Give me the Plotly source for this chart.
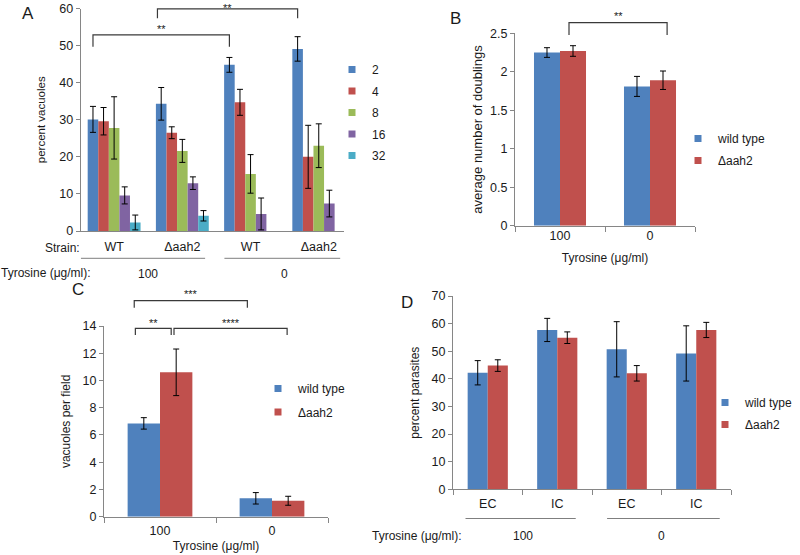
import plotly.graph_objects as go

# ---------------- data ----------------
# Panel A: percent vacuoles by vacuole size
vac_sizes = ["2", "4", "8", "16", "32"]
strain_labels = ["WT", "Δaah2", "WT", "Δaah2"]
tyrosine_groups = ["100", "0"]
a_2 = [30.1, 34.3, 44.8, 49.1]
a_4 = [29.6, 26.5, 34.7, 20.0]
a_8 = [27.8, 21.6, 15.4, 23.0]
a_16 = [9.6, 12.9, 4.6, 7.4]
a_32 = [2.3, 4.1, None, None]   # no 32-parasite vacuoles shown without tyrosine
a_2_err = [3.5, 4.4, 2.0, 3.3]
a_4_err = [3.7, 1.6, 3.5, 8.5]
a_8_err = [8.4, 3.1, 5.2, 5.9]
a_16_err = [2.3, 1.7, 4.3, 3.6]
a_32_err = [2.0, 1.4, None, None]

# Panel B: average number of doublings
b_wt = [2.25, 1.81]
b_ko = [2.27, 1.89]
b_wt_err = [0.063, 0.13]
b_ko_err = [0.069, 0.12]

# Panel C: vacuoles per field
c_wt = [6.85, 1.35]
c_ko = [10.6, 1.17]
c_wt_err = [0.42, 0.42]
c_ko_err = [1.71, 0.33]

# Panel D: percent parasites
d_cats = ["EC", "IC", "EC", "IC"]
d_wt = [42.2, 57.7, 50.7, 49.2]
d_ko = [44.8, 54.9, 42.0, 57.7]
d_wt_err = [4.4, 4.2, 10.0, 10.0]
d_ko_err = [2.1, 2.1, 2.8, 2.75]

strain_names = ["wild type", "Δaah2"]

# ---------------- style ----------------
W, H = 800, 555
FONT = "Liberation Sans, Arial, sans-serif"
TXT = "#1a1a1a"
AXC = "#868686"
BRK = "#3a3a3a"
BLUE, RED, GREEN, PURPLE, CYAN = "#4F81BD", "#C0504D", "#9BBB59", "#8064A2", "#4BACC6"
size_colors = [BLUE, RED, GREEN, PURPLE, CYAN]


def px_x(p):
    return p / W


def px_y(p):
    return 1 - p / H


# subplot domains (pixels) and ranges
dom = {
    "A": ([px_x(80.7), px_x(344)], [px_y(231), px_y(8.5)], [-0.49, 3.37], [0, 60]),
    "B": ([px_x(515), px_x(695)], [px_y(225.7), px_y(33.3)], [-0.5, 1.5], [0, 2.5]),
    "C": ([px_x(104), px_x(328)], [px_y(516.7), px_y(326)], [-0.5, 1.5], [0, 14]),
    "D": ([px_x(453), px_x(731)], [px_y(489.3), px_y(296)], [-0.5, 3.5], [0, 70]),
}
axes_of = {"A": ("x", "y"), "B": ("x2", "y2"), "C": ("x3", "y3"), "D": ("x4", "y4")}


def ypaper(panel, v):
    _, yd, _, yr = dom[panel]
    return yd[0] + (v - yr[0]) / (yr[1] - yr[0]) * (yd[1] - yd[0])


def err(arr):
    return dict(type="data", array=arr, color="black", thickness=1, width=3, visible=True)


fig = go.Figure()

# ---- Panel A bars
a_vals = [a_2, a_4, a_8, a_16, a_32]
a_errs = [a_2_err, a_4_err, a_8_err, a_16_err, a_32_err]
wA = 0.155
xA = list(range(len(strain_labels)))
for i, (nm, v, e, c) in enumerate(zip(vac_sizes, a_vals, a_errs, size_colors)):
    fig.add_trace(go.Bar(x=xA, y=v, error_y=err(e), width=wA, offset=-2.5 * wA + i * wA,
                         marker=dict(color=c, line=dict(width=0)), name=nm, showlegend=False,
                         xaxis="x", yaxis="y"))
    fig.add_trace(go.Scatter(x=[None], y=[None], mode="markers", name=nm,
                             marker=dict(symbol="square", size=7, color=c),
                             legend="legend", legendgroup="a" + nm, xaxis="x", yaxis="y"))

# ---- Panels B, C, D (two strains)
wP = 0.289
panels = [
    ("B", [0, 1], [b_wt, b_ko], [b_wt_err, b_ko_err], "legend2"),
    ("C", [0, 1], [c_wt, c_ko], [c_wt_err, c_ko_err], "legend3"),
    ("D", [0, 1, 2, 3], [d_wt, d_ko], [d_wt_err, d_ko_err], "legend4"),
]
for pn, xs, vals, errs, lg in panels:
    xa, ya = axes_of[pn]
    for j, (nm, v, e, c) in enumerate(zip(strain_names, vals, errs, [BLUE, RED])):
        fig.add_trace(go.Bar(x=xs, y=v, error_y=err(e), width=wP, offset=-wP + j * wP,
                             marker=dict(color=c, line=dict(width=0)), name=nm, showlegend=False,
                             xaxis=xa, yaxis=ya))
        fig.add_trace(go.Scatter(x=[None], y=[None], mode="markers", name=nm,
                                 marker=dict(symbol="square", size=7, color=c),
                                 legend=lg, legendgroup=pn + nm, xaxis=xa, yaxis=ya))

# ---- axes
tickfont = dict(family=FONT, size=12.5, color=TXT)
layout_axes = {}
for k, pn in enumerate(["A", "B", "C", "D"]):
    xd, yd, xr, yr = dom[pn]
    sfx = "" if k == 0 else str(k + 1)
    xa = dict(domain=xd, range=xr, anchor="y" + sfx, showline=True, linecolor=AXC, linewidth=1,
              showgrid=False, zeroline=False, tickfont=tickfont, ticks="", fixedrange=True,
              automargin=False)
    ya = dict(domain=yd, range=yr, anchor="x" + sfx, showline=True, linecolor=AXC, linewidth=1,
              showgrid=False, zeroline=False, tickfont=tickfont, ticks="outside", ticklen=4,
              tickcolor=AXC, tickwidth=1, automargin=False, fixedrange=True)
    layout_axes["xaxis" + sfx] = xa
    layout_axes["yaxis" + sfx] = ya

# A
layout_axes["xaxis"].update(tickmode="array", tickvals=xA, ticktext=strain_labels, ticklabelstandoff=4)
layout_axes["yaxis"].update(dtick=10, title=dict(text="percent vacuoles", standoff=11,
                                                 font=dict(family=FONT, size=11.5, color=TXT)))
# B
layout_axes["xaxis2"].update(tickmode="array", tickvals=[0, 1], ticktext=tyrosine_groups,
                             ticklabelstandoff=-2,
                             minor=dict(tickmode="array", tickvals=[-0.5, 0.5, 1.5], ticks="outside",
                                        ticklen=5, tickcolor=AXC, tickwidth=1),
                             title=dict(text="Tyrosine (μg/ml)", standoff=11,
                                        font=dict(family=FONT, size=12, color=TXT)))
layout_axes["yaxis2"].update(dtick=0.5, title=dict(text="average number of doublings", standoff=4,
                                                   font=dict(family=FONT, size=13, color=TXT)))
# C
layout_axes["xaxis3"].update(tickmode="array", tickvals=[0, 1], ticktext=tyrosine_groups,
                             ticklabelstandoff=2,
                             minor=dict(tickmode="array", tickvals=[-0.5, 0.5, 1.5], ticks="outside",
                                        ticklen=5, tickcolor=AXC, tickwidth=1),
                             title=dict(text="Tyrosine (μg/ml)", standoff=4,
                                        font=dict(family=FONT, size=12, color=TXT)))
layout_axes["yaxis3"].update(dtick=2, title=dict(text="vacuoles per field", standoff=8.5,
                                                 font=dict(family=FONT, size=12, color=TXT)))
# D
layout_axes["xaxis4"].update(tickmode="array", tickvals=[0, 1, 2, 3], ticktext=d_cats,
                             ticklabelstandoff=3,
                             minor=dict(tickmode="array", tickvals=[-0.5, 0.5, 1.5, 2.5, 3.5],
                                        ticks="outside", ticklen=5, tickcolor=AXC, tickwidth=1))
layout_axes["yaxis4"].update(dtick=10, title=dict(text="percent parasites", standoff=9,
                                                  font=dict(family=FONT, size=12, color=TXT)))

# ---- brackets (x in category units, y in data units, star label shift in px)
brackets = [
    ("A", -0.31, 1.69, 52.9, 49.7, "**", -1),
    ("A", 0.635, 2.69, 59.9, 57.4, "**", -6),
    ("B", 0.10, 1.19, 2.638, 2.478, "**", 0),
    ("C", -0.23, 0.78, 15.86, 15.34, "***", 0),
    ("C", -0.22, 0.10, 13.83, 13.34, "**", -2),
    ("C", 0.125, 1.135, 13.83, 13.34, "****", -2),
]
shapes = []
annotations = []
for pn, x0, x1, yt, yb, stars, sh in brackets:
    xa, _ = axes_of[pn]
    pt, pb = ypaper(pn, yt), ypaper(pn, yb)
    shapes.append(dict(type="path", xref=xa, yref="paper",
                       path=f"M {x0},{pb} L {x0},{pt} L {x1},{pt} L {x1},{pb}",
                       line=dict(color=BRK, width=1.2)))
    annotations.append(dict(x=(x0 + x1) / 2, y=pt, xref=xa, yref="paper", text=stars,
                            showarrow=False, yanchor="bottom", yshift=sh, borderpad=0,
                            font=dict(family=FONT, size=11, color=TXT)))

# ---- group lines and labels under A and D
group_lines = [
    ("x", -0.488, 1.334, 258.3), ("x", 1.617, 3.314, 258.3),
    ("x4", -0.32, 1.266, 518.5), ("x4", 1.717, 3.338, 518.5),
]
for xa, x0, x1, ypx in group_lines:
    shapes.append(dict(type="line", xref=xa, yref="paper", x0=x0, x1=x1, y0=px_y(ypx), y1=px_y(ypx),
                       line=dict(color="#7f7f7f", width=1)))

lab_font = dict(family=FONT, size=12, color=TXT)
for xa, ypx in [("x", 273.5), ("x4", 535.5)]:
    for xi, t in zip([0.5, 2.5], tyrosine_groups):
        annotations.append(dict(x=xi, y=px_y(ypx), xref=xa, yref="paper", text=t, showarrow=False,
                                xanchor="center", yanchor="middle", font=lab_font))
annotations.append(dict(x=px_x(82), y=px_y(248), xref="paper", yref="paper", text="Strain:",
                        showarrow=False, xanchor="right", yanchor="middle", font=lab_font))
annotations.append(dict(x=px_x(92), y=px_y(272.5), xref="paper", yref="paper", text="Tyrosine (μg/ml):",
                        showarrow=False, xanchor="right", yanchor="middle", font=lab_font, borderpad=0))
annotations.append(dict(x=px_x(464), y=px_y(535.5), xref="paper", yref="paper", text="Tyrosine (μg/ml):",
                        showarrow=False, xanchor="right", yanchor="middle", font=lab_font))

# panel letters
for t, xp, yp in [("A", 28.5, 14), ("B", 455, 18), ("C", 77.5, 289.5), ("D", 407, 302)]:
    annotations.append(dict(x=px_x(xp), y=px_y(yp), xref="paper", yref="paper", text=t,
                            showarrow=False, xanchor="center", yanchor="middle", borderpad=0,
                            font=dict(family=FONT, size=17, color=TXT)))

leg_font = dict(family=FONT, size=12, color=TXT)


def legend_at(xpx, ypx, gap):
    return dict(x=px_x(xpx), y=px_y(ypx), xanchor="left", yanchor="top", bgcolor="rgba(0,0,0,0)",
                font=leg_font, tracegroupgap=gap, itemwidth=30, borderwidth=0)


fig.update_layout(
    width=W, height=H, autosize=False,
    margin=dict(l=0, r=0, t=0, b=0, autoexpand=False),
    paper_bgcolor="white", plot_bgcolor="white",
    barmode="overlay", hovermode=False,
    font=dict(family=FONT, color=TXT),
    shapes=shapes, annotations=annotations,
    legend=legend_at(332, 55, 2.5),
    legend2=legend_at(678, 124, 3),
    legend3=legend_at(258, 374, 4.5),
    legend4=legend_at(705, 388, 3),
    **layout_axes,
)

fig.write_html("out.html", config={"displayModeBar": False},
               post_script="document.body.style.margin='0px';")
